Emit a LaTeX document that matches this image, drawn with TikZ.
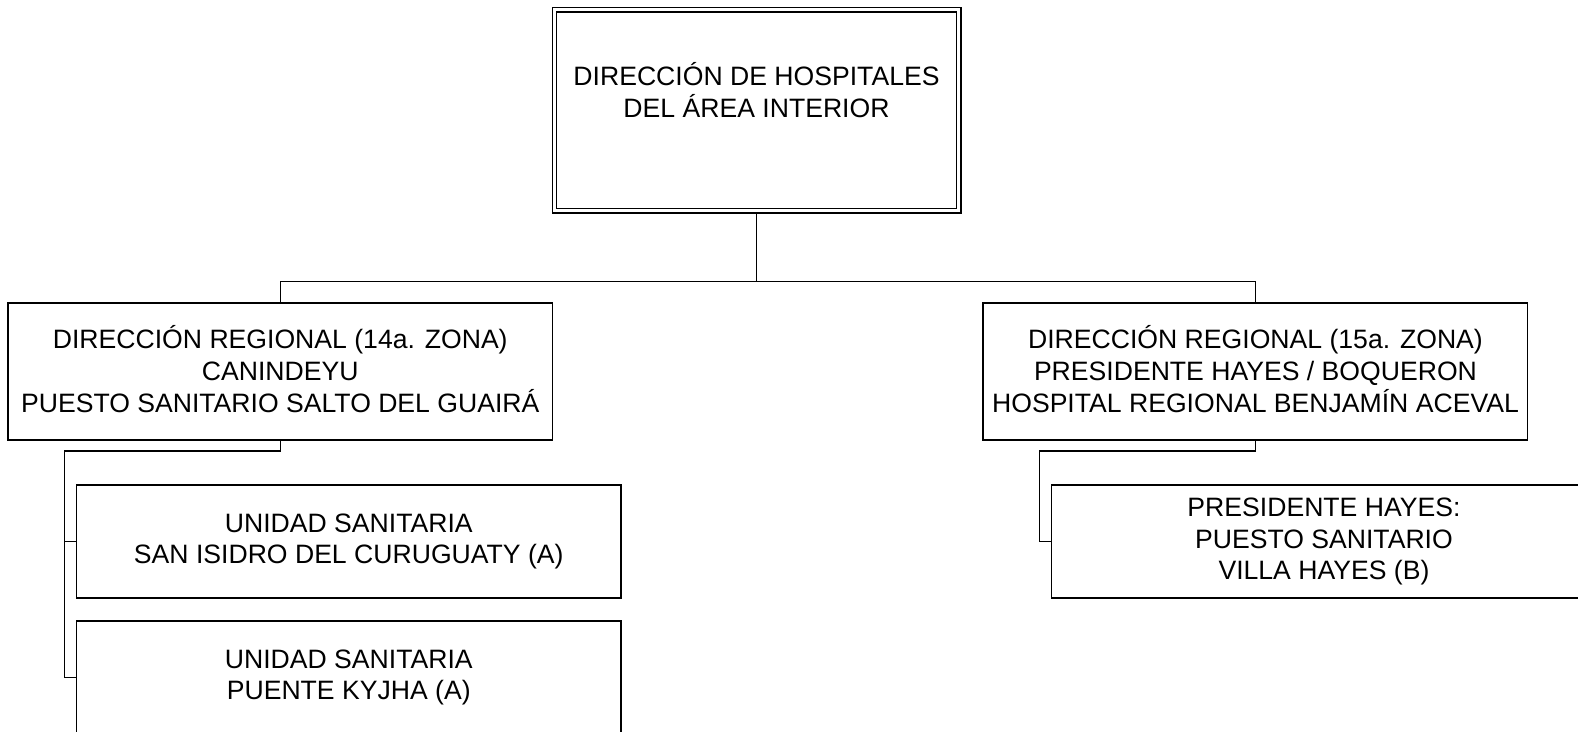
\documentclass[tikz,border=0pt]{standalone}
\usepackage{fontspec}
\setmainfont{Liberation Sans}
\begin{document}
\begin{tikzpicture}[x=1pt,y=-1pt,
  every node/.style={inner sep=0pt, outer sep=0pt},
  txt/.style={align=center, font=\fontsize{26.6}{31.7}\selectfont,
    execute at begin node={\rule{0pt}{33pt}},
    execute at end node={\rule[-5pt]{0pt}{5pt}}},
  orgbox/.style={draw, line width=1.5pt, minimum width=544.5pt, txt},
  conn/.style={line width=1.5pt}]
\useasboundingbox (0,0) rectangle (1578,731);
% top box (double frame)
\node[draw, double, double distance=3pt, line width=1.4pt,
      minimum width=404.2pt, minimum height=201pt] (top) at (756.6,110.35) {};
\node[txt] (toptxt) at (756.5,92.6) {DIRECCIÓN DE HOSPITALES\\DEL ÁREA INTERIOR};
% regional boxes
\node[orgbox, minimum height=137pt] (L1) at (280.25,371.5)
  {DIRECCIÓN REGIONAL (14a. ZONA)\\CANINDEYU\\PUESTO SANITARIO SALTO DEL GUAIRÁ};
\node[orgbox, minimum height=137pt] (R1) at (1255.45,371.5)
  {DIRECCIÓN REGIONAL (15a. ZONA)\\PRESIDENTE HAYES / BOQUERON\\HOSPITAL REGIONAL BENJAMÍN ACEVAL};
% units
\node[orgbox, minimum height=113pt] (U1) at (348.75,541.5)
  {UNIDAD SANITARIA\\SAN ISIDRO DEL CURUGUATY (A)};
\node[orgbox, minimum height=113pt] (U2) at (348.75,677.5)
  {UNIDAD SANITARIA\\PUENTE KYJHA (A)};
\node[orgbox, minimum height=113pt] (R2) at (1323.95,541.5)
  {PRESIDENTE HAYES:\\PUESTO SANITARIO\\VILLA HAYES (B)};
% connectors
\coordinate (bus) at (0,281.5);
\coordinate (sL) at (64.4,451);
\coordinate (sR) at (1039.6,451);
\draw[conn] ([yshift=-2.2pt]top.south) -- (top.south |- bus);
\draw[conn] (L1.north) -- (L1.north |- bus) -- (R1.north |- bus) -- (R1.north);
\draw[conn] (L1.south) |- (sL) -- (sL |- U2.west) -- (U2.west);
\draw[conn] (U1.west) -- (U1.west -| sL);
\draw[conn] (R1.south) |- (sR) -- (sR |- R2.west) -- (R2.west);
\end{tikzpicture}
\end{document}
